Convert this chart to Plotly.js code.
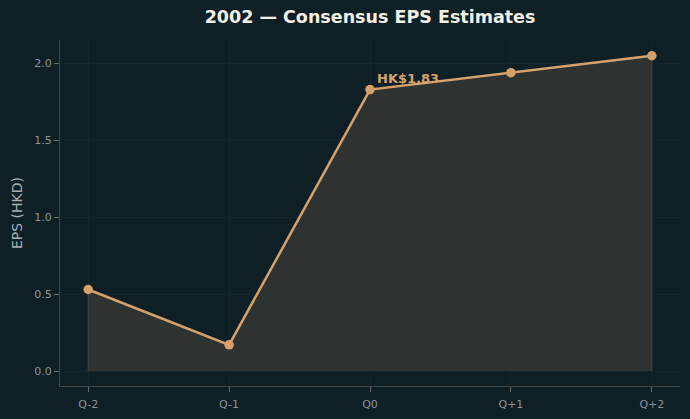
<!DOCTYPE html>
<html>
<head>
<meta charset="utf-8">
<script src="https://cdn.plot.ly/plotly-3.0.1.min.js"></script>
<style>
  html, body { margin: 0; padding: 0; background: #0f1f26; }
  #chart { width: 690px; height: 419px; }
</style>
</head>
<body>
<div id="chart"></div>
<script>
// Quarterly consensus EPS estimates (HKD)
const quarters = ["Q-2", "Q-1", "Q0", "Q+1", "Q+2"];
const eps = [0.53, 0.17, 1.83, 1.94, 2.05];
const yTicks = [0.0, 0.5, 1.0, 1.5, 2.0];
const currentIndex = 2;

const lineColor = "#d6a26c";
const bg = "#0f1f26";

// Closed outline of the area under the curve, down to zero
const areaX = [quarters[0]].concat(quarters, [quarters[quarters.length - 1]]);
const areaY = [0].concat(eps, [0]);

const traces = [
  {
    x: areaX,
    y: areaY,
    type: "scatter",
    mode: "lines",
    fill: "toself",
    fillcolor: "#2e3332",
    line: { color: "#45463f", width: 1 },
    hoverinfo: "skip",
    showlegend: false
  },
  {
    x: quarters,
    y: eps,
    type: "scatter",
    mode: "lines+markers",
    line: { color: lineColor, width: 2.5 },
    marker: { color: lineColor, size: 9.5 },
    showlegend: false
  }
];

const layout = {
  width: 690,
  height: 419,
  paper_bgcolor: bg,
  plot_bgcolor: bg,
  margin: { l: 60, r: 10, t: 40, b: 33 },
  font: { family: "DejaVu Sans", color: "#8c9399", size: 11 },
  title: {
    text: "<b>2002 — Consensus EPS Estimates</b>",
    font: { family: "DejaVu Sans", size: 17.5, color: "#f2efe6" },
    x: 0.5, xref: "paper", xanchor: "center",
    y: 1, yref: "container", yanchor: "top", pad: { t: 11 }
  },
  xaxis: {
    type: "category",
    range: [-0.2, 4.2],
    showline: true, linecolor: "#45463f", linewidth: 1,
    showgrid: true, gridcolor: "#15252d", gridwidth: 1,
    ticks: "outside", ticklen: 5, tickcolor: "#6c6e6a", tickwidth: 1,
    ticklabelstandoff: 3,
    tickfont: { size: 11, color: "#8c9399" },
    zeroline: false
  },
  yaxis: {
    range: [-0.0975, 2.1525],
    tickvals: yTicks,
    ticktext: yTicks.map(v => v.toFixed(1)),
    showline: true, linecolor: "#45463f", linewidth: 1,
    showgrid: true, gridcolor: "#15252d", gridwidth: 1,
    ticks: "outside", ticklen: 5, tickcolor: "#6c6e6a", tickwidth: 1,
    tickfont: { size: 11, color: "#8c9399" },
    zeroline: false,
    title: { text: "EPS (HKD)", font: { size: 14, color: "#aab0b3" }, standoff: 8 }
  },
  annotations: [
    {
      x: quarters[currentIndex],
      y: eps[currentIndex],
      text: "<b>HK$" + eps[currentIndex].toFixed(2) + "</b>",
      showarrow: false,
      xanchor: "left", yanchor: "bottom",
      xshift: 5, yshift: 2,
      font: { family: "DejaVu Sans", size: 13, color: lineColor }
    }
  ]
};

Plotly.newPlot("chart", traces, layout, { displayModeBar: false, staticPlot: true });
</script>
</body>
</html>
